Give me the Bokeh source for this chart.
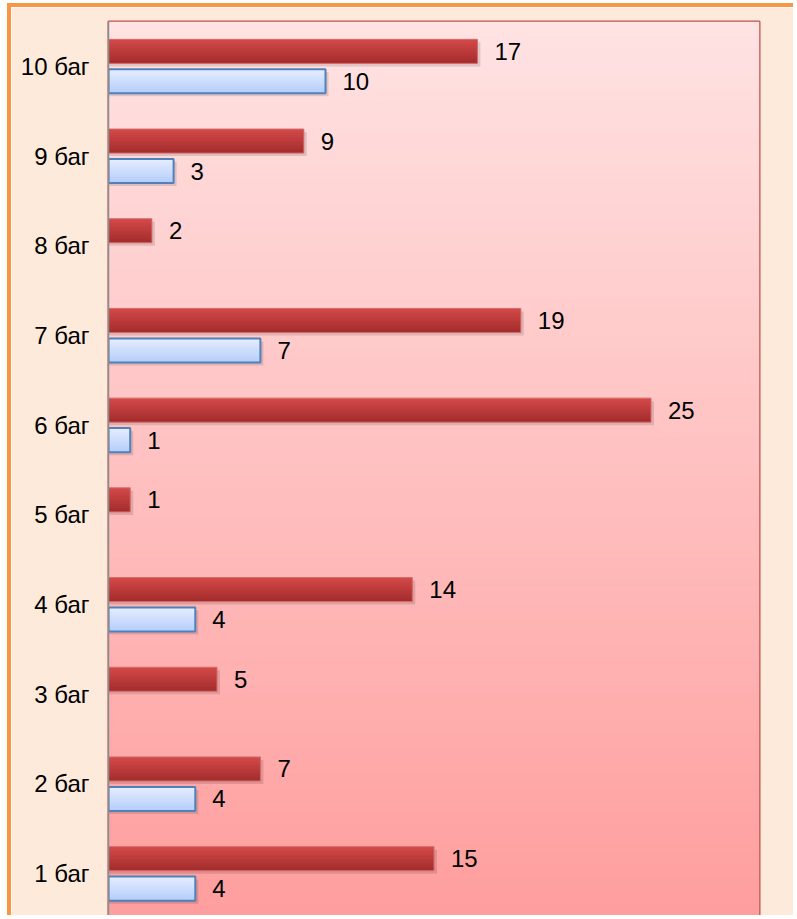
import numpy as np
from bokeh.plotting import figure
from bokeh.models import Range1d, FixedTicker
from bokeh.core.properties import value
from bokeh.embed import file_html
from bokeh.resources import INLINE

# ---- data ----
categories = ["1 баг", "2 баг", "3 баг", "4 баг", "5 баг",
              "6 баг", "7 баг", "8 баг", "9 баг", "10 баг"]
red_values = [15, 7, 5, 14, 1, 25, 19, 2, 9, 17]
blue_values = [4, 4, 0, 4, 0, 1, 7, 0, 3, 10]

FONT = "Liberation Sans"
ys = np.arange(1, len(categories) + 1, dtype=float)
red = np.array(red_values, dtype=float)
blue = np.array(blue_values, dtype=float)

XMAX = 30
p = figure(width=786, height=912, output_backend="svg", toolbar_location=None,
           x_range=Range1d(0, XMAX), y_range=Range1d(0.5, len(categories) + 0.5),
           min_border_left=97, min_border_top=14, min_border_right=38, min_border_bottom=1,
           margin=(3, 0, 0, 7))
p.styles = {"border-top": "4px solid #F79646", "border-left": "4px solid #F79646"}
p.border_fill_color = "#FDEADA"
p.background_fill_color = "#FFD0D0"
p.outline_line_color = "#C0504D"
p.outline_line_width = 2

# plot-area vertical gradient (decoration)
n = 200
top = np.array([255, 227, 227])
bot = np.array([255, 158, 158])
t = np.linspace(0, 1, n)[:, None]
cols = (bot * (1 - t) + top * t).astype(np.uint8)
img = np.zeros((n, 1), dtype=np.uint32)
view = img.view(dtype=np.uint8).reshape((n, 1, 4))
view[:, 0, 0] = cols[:, 0]
view[:, 0, 1] = cols[:, 1]
view[:, 0, 2] = cols[:, 2]
view[:, 0, 3] = 255
p.image_rgba(image=[img], x=0, y=0.5, dw=XMAX, dh=len(categories))

OFF = 0.167
H = 0.268
SX = 3 / 21.7
SY = 3 / 89.7


def grad_bar(vals, yc, c_top, c_bot, line_color, line_width, k=12):
    # soft shadow
    p.hbar(y=yc - SY, left=0, right=vals + SX, height=H, fill_color="#000000",
           fill_alpha=0.12, line_color=None)
    for i in range(k):
        f = i / (k - 1)
        c = "#%02x%02x%02x" % tuple(int(round(c_top[j] * (1 - f) + c_bot[j] * f)) for j in range(3))
        yy = yc + H / 2 - (i + 0.5) * H / k
        hh = H / k * (1.6 if i < k - 1 else 1.0)
        p.hbar(y=yy - (hh - H / k) / 2, left=0, right=vals, height=hh,
               fill_color=c, line_color=None)
    p.hbar(y=yc, left=0, right=vals, height=H, fill_color=None,
           line_color=line_color, line_width=line_width)


grad_bar(red, ys + OFF, (210, 72, 72), (165, 45, 45), "#D46A6A", 1)
mask = blue > 0
grad_bar(blue[mask], ys[mask] - OFF, (228, 236, 255), (182, 206, 250), "#4F81BD", 2)

# value labels
p.text(x=red, y=ys + OFF, text=[str(int(v)) for v in red], x_offset=17,
       text_baseline="middle", text_align="left", text_font=value(FONT),
       text_font_size="24px", text_color="#000000")
p.text(x=blue[mask], y=ys[mask] - OFF, text=[str(int(v)) for v in blue[mask]], x_offset=17,
       text_baseline="middle", text_align="left", text_font=value(FONT),
       text_font_size="24px", text_color="#000000")

# axes
p.xaxis.visible = False
p.xgrid.visible = False
p.ygrid.visible = False
p.yaxis.ticker = FixedTicker(ticks=list(ys))
p.yaxis.major_label_overrides = {float(y): c for y, c in zip(ys, categories)}
p.yaxis.major_label_overrides.update({int(y): c for y, c in zip(ys, categories)})
p.yaxis.major_tick_line_color = None
p.yaxis.major_tick_out = 0
p.yaxis.major_tick_in = 0
p.yaxis.minor_tick_line_color = None
p.yaxis.axis_line_color = "#8C8C8C"
p.yaxis.axis_line_width = 1.5
p.yaxis.major_label_standoff = 19
p.yaxis.major_label_text_font = FONT
p.yaxis.major_label_text_font_size = "24px"
p.yaxis.major_label_text_color = "#000000"

open("out.html", "w").write(file_html(p, INLINE))
